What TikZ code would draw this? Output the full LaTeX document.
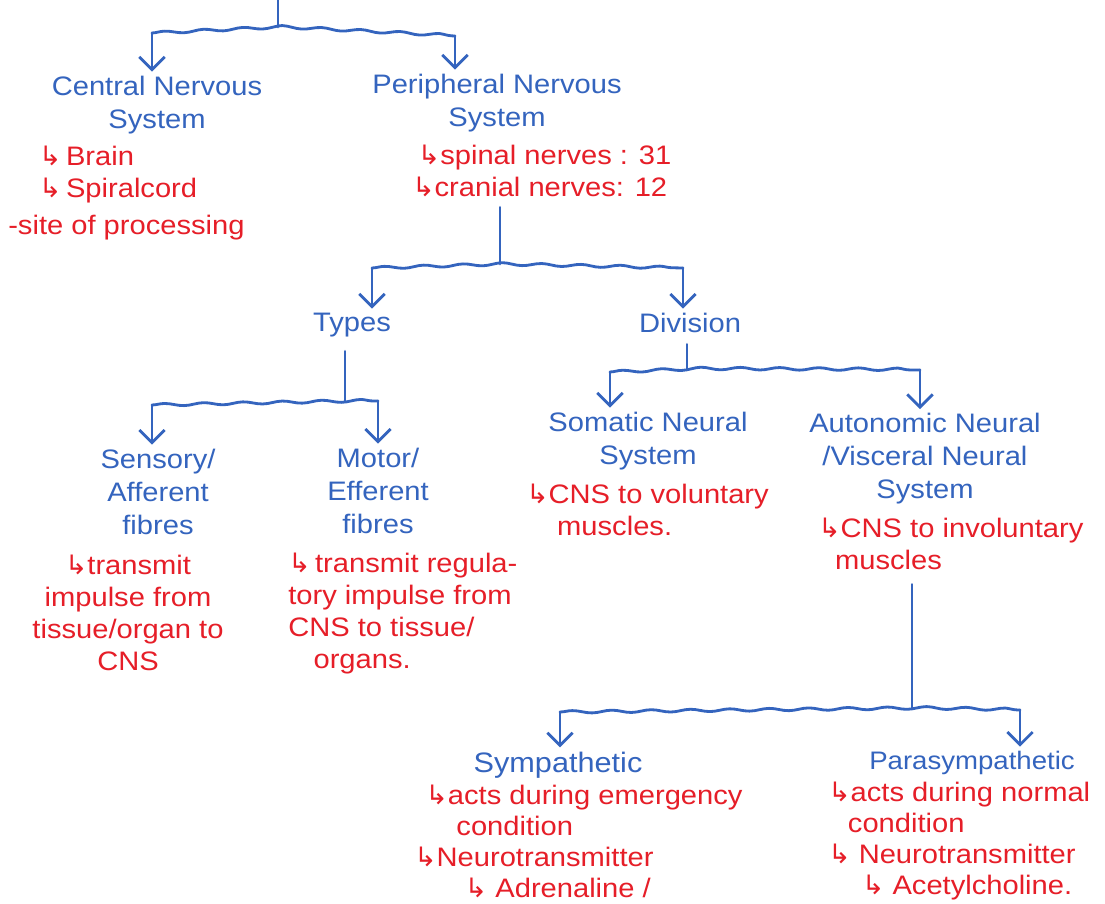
\documentclass[tikz,border=0pt]{standalone}
\usepackage{fontspec}
\setmainfont{Liberation Sans}[FakeStretch=1.09]
\newfontfamily\symf{DejaVu Sans}
\usetikzlibrary{arrows.meta,decorations.pathmorphing}
\definecolor{nblue}{RGB}{52,100,190}
\definecolor{nred}{RGB}{230,30,40}
\newcommand{\hk}{{\symf ↳}}
\begin{document}
\begin{tikzpicture}[x=0.025cm,y=-0.025cm,
  title/.style={text=nblue, font=\fontsize{19}{23.5}\selectfont, align=center, inner sep=3pt},
  note/.style={text=nred, font=\fontsize{19}{22.8}\selectfont, align=left, inner sep=0pt},
  cnote/.style={note, align=center},
  link/.style={draw=nblue, line width=2pt, line cap=round, line join=round},
  wavy/.style={link, decorate, decoration={snake, amplitude=0.9pt, segment length=28pt}},
  arr/.style={link, -{Straight Barb[length=9pt,width=18pt,line width=2pt]}}]
\clip (0,0) rectangle (1105,903);
\fill[white] (0,0) rectangle (1105,903);

% ---- level 1
\node[title] (cns) at (157,105) {Central Nervous\\System};
\node[note, anchor=north west] (cnsnote) at (8,146) {\hspace*{22pt}\hk\,Brain\\\hspace*{22pt}\hk\,Spiralcord\\[3pt]-site of processing};
\node[title] (pns) at (497,103) {Peripheral Nervous\\System};
\node[note, anchor=north west] (pnsnote) at (412,145) {\hspace*{4pt}\hk spinal nerves : 31\\\hk cranial nerves: 12};

\coordinate (root) at (278,0);
\coordinate (j0) at (278,27);
\coordinate (l0) at (152,33);
\coordinate (r0) at (455,36);
\draw[link] (root) -- (j0);
\draw[wavy] (l0) -- (j0) -- (r0);
\draw[arr] (l0) -- (cns.north -| l0);
\draw[arr] (r0) -- (pns.north -| r0);

% ---- level 2
\node[title] (types) at (352,325) {Types};
\node[title] (division) at (690,323) {Division};
\coordinate (j1) at (500,264);
\coordinate (l1) at (372,268);
\coordinate (r1) at (683,268);
\draw[link, shorten <=7pt] (pnsnote.south -| j1) -- (j1);
\draw[wavy] (l1) -- (j1) -- (r1);
\draw[arr] (l1) -- (types.north -| l1);
\draw[arr] (r1) -- (division.north -| r1);

% ---- types
\node[title] (sensory) at (158,492) {Sensory/\\Afferent\\fibres};
\node[title] (motor) at (378,491) {Motor/\\Efferent\\fibres};
\node[cnote] (sensnote) at (128,613) {\hk transmit\\impulse from\\tissue/organ to\\CNS};
\node[note, anchor=north west] (motnote) at (288,553) {\hk\,transmit regula-\\tory impulse from\\CNS to tissue/\\\hspace*{18pt}organs.};
\coordinate (j2) at (345,401);
\coordinate (l2) at (152,405);
\coordinate (r2) at (378,401);
\draw[link, shorten <=7pt] (types.south -| j2) -- (j2);
\draw[wavy] (l2) -- (j2) -- (r2);
\draw[arr] (l2) -- (sensory.north -| l2);
\draw[arr] (r2) -- (motor.north -| r2);

% ---- division
\node[title] (somatic) at (648,441) {Somatic Neural\\System};
\node[title] (auto) at (925,459) {Autonomic Neural\\/Visceral Neural\\System};
\node[note, anchor=north west] (somnote) at (526,484) {\hk CNS to voluntary\\\hspace*{22pt}muscles.};
\node[note, anchor=north west] (autonote) at (818,518) {\hk CNS to involuntary\\\hspace*{12pt}muscles};
\coordinate (j3) at (687,369);
\coordinate (l3) at (610,372);
\coordinate (r3) at (920,370);
\draw[link, shorten <=5pt] (division.south -| j3) -- (j3);
\draw[wavy] (l3) -- (j3) -- (r3);
\draw[arr] (l3) -- (somatic.north -| l3);
\draw[arr] (r3) -- (auto.north -| r3);

% ---- autonomic branches
\node[title, font=\fontsize{20}{24}\selectfont] (symp) at (558,765) {Sympathetic};
\node[title, font=\fontsize{18}{24}\selectfont] (para) at (972,763) {Parasympathetic};
\node[note, anchor=north west, font=\fontsize{19}{22}\selectfont] (sympnote) at (414,785) {\hspace*{8pt}\hk acts during emergency\\\hspace*{30pt}condition\\\hk Neurotransmitter\\\hspace*{36pt}\hk\ Adrenaline /};
\node[note, anchor=north west, font=\fontsize{19}{22}\selectfont] (paranote) at (828,782) {\hk acts during normal\\\hspace*{14pt}condition\\\hk\ Neurotransmitter\\\hspace*{24pt}\hk\ Acetylcholine.};
\coordinate (j4) at (912,708);
\coordinate (l4) at (560,712);
\coordinate (r4) at (1020,710);
\draw[link, shorten <=10pt] (autonote.south -| j4) -- (j4);
\draw[wavy] (l4) -- (j4) -- (r4);
\draw[arr] (l4) -- (symp.north -| l4);
\draw[arr] (r4) -- (para.north -| r4);
\end{tikzpicture}
\end{document}
